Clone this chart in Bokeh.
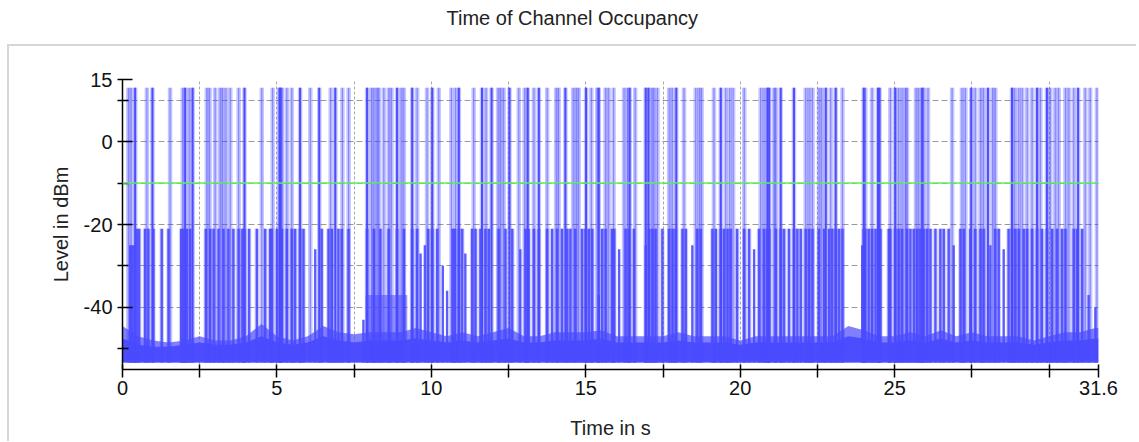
from bokeh.plotting import figure
from bokeh.models import FixedTicker, Span, Range1d, Title
from bokeh.embed import file_html
from bokeh.resources import INLINE

# ---------------- data ----------------
title_text = "Time of Channel Occupancy"
x_label = "Time in s"
y_label = "Level in dBm"

x_major = [0, 5, 10, 15, 20, 25, 31.6]
x_minor = [2.5, 7.5, 12.5, 17.5, 22.5, 27.5, 30]
y_major = [15, 0, -20, -40]
y_minor = [10, -10, -30, -50]

threshold_dbm = -10.0
burst_level = 13.0
floor_bottom = -53.3

# times (s) of bursts reaching ~13 dBm
hi_times = [0.19, 0.28, 0.41, 0.79, 0.97, 1.54, 1.95, 2.03, 2.16, 2.27, 2.73, 2.82,
            3.00, 3.16, 3.24, 3.35, 3.49, 3.76, 3.95, 4.51, 4.86, 5.07, 5.10, 5.13,
            5.16, 5.32, 5.48, 5.75, 6.08, 6.37, 6.74, 6.89, 7.12, 7.32,
            7.92, 8.06, 8.14, 8.24, 8.30, 8.46, 8.62, 8.71, 8.89, 9.02, 9.11, 9.38,
            9.54, 9.86, 10.03, 10.24, 10.65, 10.78, 10.89, 11.37, 11.64, 11.77, 11.95,
            12.16, 12.24, 12.34, 12.53, 12.83, 13.02, 13.12, 13.32, 13.48, 13.75,
            14.04, 14.12, 14.34, 14.59, 14.69, 14.77, 15.01, 15.18, 15.37, 15.42,
            15.64, 15.74, 15.90,
            16.24, 16.35, 16.42, 16.60, 16.94, 17.03, 17.14, 17.21, 17.32, 17.70,
            17.80, 17.93, 18.18, 18.56, 18.67, 18.75, 19.15, 19.37, 19.53, 19.66,
            19.77, 20.13, 20.66, 20.77, 20.88, 20.94, 21.10, 21.15, 21.31, 21.74,
            22.12, 22.23, 22.34, 22.55, 22.64, 22.77, 22.93, 23.09, 23.31,
            24.00, 24.05, 24.27, 24.46, 24.51, 24.86, 25.02, 25.13, 25.24, 25.35,
            25.40, 25.69, 25.78, 25.89, 25.94, 26.08, 26.86, 27.18, 27.29, 27.48,
            27.61, 27.78, 27.88, 28.02, 28.17, 28.26, 28.80, 28.89, 29.02, 29.13,
            29.29, 29.45, 29.61, 29.72, 29.93, 30.04, 30.20, 30.31, 30.53, 30.64,
            30.80, 30.94, 31.17, 31.33, 31.55]

# the bursts that are drawn darkest
hi_strong = [0.41, 0.97, 2.03, 2.27, 3.95, 5.10, 5.75, 6.37, 6.89,
             7.92, 8.89, 9.38, 10.03, 10.89, 11.64, 11.95, 12.53, 13.12, 13.48,
             14.34, 15.01, 15.42, 16.42, 16.94, 17.03, 17.93, 19.37, 20.88, 20.94,
             21.31, 21.74, 22.77, 23.09, 24.00, 24.46, 24.51, 25.02, 25.89, 27.48,
             28.02, 28.80, 29.61, 29.93, 30.94]

# times (s) of bursts reaching ~-21 dBm
mid_times = [0.46, 0.54, 0.73, 0.84, 1.00, 1.27, 1.49, 1.90, 1.97, 2.08, 2.19,
             2.70, 2.84, 2.95, 3.11, 3.27, 3.43, 3.59, 3.76, 3.88, 3.95, 4.10,
             4.35, 4.62, 4.78, 4.83, 5.00, 5.16, 5.32, 5.48, 5.59, 5.75, 5.86,
             6.45, 6.67, 6.78, 6.99, 7.10, 7.32,
             7.92, 8.14, 8.35, 8.62, 8.89, 9.11, 9.38, 9.54, 9.90, 10.03, 10.19,
             10.69, 10.76, 10.89, 11.00, 11.32, 11.43, 11.59, 11.75, 11.86, 12.18,
             12.40, 12.62, 13.05, 13.15, 13.32, 13.48, 13.75, 13.91, 14.07, 14.23,
             14.40, 14.50, 14.66, 14.88, 14.99, 15.10, 15.21, 15.53, 15.64, 15.85,
             15.92, 16.29, 16.40, 16.56, 17.05, 17.16, 17.26, 17.48, 17.70, 17.81,
             17.91, 18.13, 18.24, 18.61, 18.72, 19.10, 19.21, 19.37, 19.48, 19.59,
             19.69, 19.90, 20.13, 20.29, 20.61, 20.77, 20.88, 20.94, 21.15, 21.31,
             21.42, 21.58, 21.74, 21.85, 21.96, 22.12, 22.23, 22.34, 22.55, 22.72,
             22.88, 22.98, 23.09, 23.20, 23.31,
             24.00, 24.05, 24.16, 24.27, 24.38, 24.48, 24.54, 24.81, 24.86, 25.02,
             25.13, 25.24, 25.40, 25.51, 25.62, 25.73, 25.83, 25.94, 26.05, 26.16,
             26.32, 26.48, 26.59, 26.75, 27.13, 27.24, 27.45, 27.61, 27.78, 27.88,
             28.26, 28.37, 28.69, 28.80, 28.91, 29.02, 29.18, 29.29, 29.45, 29.61,
             29.77, 29.93, 30.10, 30.26, 30.42, 30.53, 30.80, 30.91, 31.07]
mid_level = -21.0

# bursts that stop at other, lower levels
low_times = [0.25, 0.30, 0.36, 6.24, 7.80, 9.65, 9.79, 10.37, 10.51, 11.10, 12.88,
             15.42, 16.08, 16.94, 18.45, 20.45, 23.95, 26.91, 28.10, 28.53, 31.28, 31.50]
low_levels = [-25, -25, -25, -26, -43, -27, -25, -30, -36, -27, -26,
              -37, -26, -25, -25, -26, -25, -25, -25, -26, -37, -40]

# dense cluster with ~-37 dBm plateau
plateau_start = [7.87]
plateau_end = [9.22]
plateau_top = [-37.0]

# noise floor envelope
floor_t = [0.0, 0.5, 1.0, 1.5, 2.0, 2.5, 3.0, 3.5, 4.0, 4.5, 5.0, 5.5, 6.0, 6.5,
           7.0, 7.5, 8.0, 8.5, 9.0, 9.5, 10.0, 10.5, 11.0, 11.5, 12.0, 12.5, 13.0,
           13.5, 14.0, 14.5, 15.0, 15.5, 16.0, 16.5, 17.0, 17.5, 18.0, 18.5, 19.0,
           19.5, 20.0, 20.5, 21.0, 21.5, 22.0, 22.5, 23.0, 23.5, 24.0, 24.5, 25.0,
           25.5, 26.0, 26.5, 27.0, 27.5, 28.0, 28.5, 29.0, 29.5, 30.0, 30.5, 31.0,
           31.5, 31.6]
floor_peak = [-44.5, -47, -48, -48.5, -48, -47, -48, -48, -47, -44, -47, -48, -47,
              -44.5, -46, -46.5, -46, -46, -46, -45, -46, -47, -46, -47, -46, -45,
              -47, -47, -46, -46, -46, -45.5, -47, -47, -47, -47, -46, -47, -47,
              -47, -48, -47, -47, -47, -47, -47, -47, -44.5, -45.5, -47, -47, -46,
              -47, -45.5, -47, -46, -47, -47, -47, -48, -47, -46, -46, -45, -45]
floor_solid = [-47.5, -49, -49.5, -49.5, -49, -48.5, -49, -49, -48.5, -47, -48.5,
               -49, -48.5, -47, -48, -48.5, -48, -48, -48, -47.5, -48, -48.5, -48,
               -48.5, -48, -47.5, -48.5, -48.5, -48, -48, -48, -47.5, -48.5, -48.5,
               -48.5, -48.5, -48, -48.5, -48.5, -48.5, -49, -48.5, -48.5, -48.5,
               -48.5, -48.5, -48.5, -47, -47.5, -48.5, -48.5, -48, -48.5, -47.5,
               -48.5, -48, -48.5, -48.5, -48.5, -49, -48.5, -48, -48, -47.5, -47.5]

# ---------------- styling ----------------
BLUE = "#4a4aff"
FONT = "Liberation Sans"
PANEL = "#d6d6d6"

p = figure(width=1136, height=441,
           x_range=Range1d(0, 31.6), y_range=Range1d(-55, 15),
           output_backend="svg", toolbar_location=None,
           min_border_left=122, min_border_right=38,
           min_border_top=79, min_border_bottom=72)
p.background_fill_color = "white"
p.border_fill_color = None
p.outline_line_color = None
# light panel frame behind the (transparent) plot border
p.styles = {
    "background": (f"linear-gradient({PANEL},{PANEL}) 7px 44px / 1400px 2px no-repeat, "
                   f"linear-gradient({PANEL},{PANEL}) 7px 44px / 2px 600px no-repeat, "
                   "white"),
}

# empty spacer between the frame and the title, so the title sits at the very top
p.add_layout(Title(text=" ", text_font_size="1px", standoff=46), "above")

p.title.text = title_text
p.title.align = "left"
p.title.offset = 324
p.title.text_font = FONT
p.title.text_font_size = "20px"
p.title.text_font_style = "normal"
p.title.text_color = "#222222"
p.title.standoff = 4

# noise floor
p.varea(x=floor_t, y1=[floor_bottom] * len(floor_t), y2=floor_peak,
        fill_color=BLUE, fill_alpha=0.7)
p.varea(x=floor_t, y1=[floor_bottom] * len(floor_t), y2=floor_solid,
        fill_color=BLUE, fill_alpha=0.95)
p.quad(left=plateau_start, right=plateau_end, bottom=[floor_bottom], top=plateau_top,
       fill_color=BLUE, fill_alpha=0.55, line_color=None)

# bursts
nh = len(hi_times)
p.segment(x0=hi_times, x1=hi_times, y0=[floor_bottom] * nh, y1=[burst_level] * nh,
          line_color=BLUE, line_width=4.5, line_alpha=0.32)
p.segment(x0=hi_times, x1=hi_times, y0=[floor_bottom] * nh, y1=[burst_level] * nh,
          line_color=BLUE, line_width=1.2, line_alpha=0.5)
ns = len(hi_strong)
p.segment(x0=hi_strong, x1=hi_strong, y0=[floor_bottom] * ns, y1=[burst_level] * ns,
          line_color=BLUE, line_width=2, line_alpha=0.95)
nm = len(mid_times)
p.segment(x0=mid_times, x1=mid_times, y0=[floor_bottom] * nm, y1=[mid_level] * nm,
          line_color=BLUE, line_width=4.5, line_alpha=0.25)
p.segment(x0=mid_times, x1=mid_times, y0=[floor_bottom] * nm, y1=[mid_level] * nm,
          line_color=BLUE, line_width=2.4, line_alpha=0.9)
nl = len(low_times)
p.segment(x0=low_times, x1=low_times, y0=[floor_bottom] * nl, y1=low_levels,
          line_color=BLUE, line_width=2.4, line_alpha=0.9)

# threshold
p.add_layout(Span(location=threshold_dbm, dimension="width",
                  line_color="#5ef05e", line_width=1.6))

# axes
xa = p.xaxis[0]
ya = p.yaxis[0]
xa.ticker = FixedTicker(ticks=x_major, minor_ticks=x_minor)
ya.ticker = FixedTicker(ticks=y_major, minor_ticks=y_minor)
xa.major_label_overrides = {v: ("%g" % v) for v in x_major}
ya.major_label_overrides = {v: ("%g" % v) for v in y_major}
for ax in (xa, ya):
    ax.axis_line_color = "black"
    ax.axis_line_width = 1.5
    ax.major_tick_line_color = "black"
    ax.major_tick_line_width = 1.5
    ax.minor_tick_line_color = "black"
    ax.minor_tick_line_width = 1.5
    ax.major_label_text_font = FONT
    ax.major_label_text_font_size = "20px"
    ax.major_label_text_color = "#111111"
    ax.axis_label_text_font = FONT
    ax.axis_label_text_font_size = "20px"
    ax.axis_label_text_font_style = "normal"
    ax.axis_label_text_color = "#222222"
xa.axis_label = x_label
ya.axis_label = y_label
xa.major_tick_in = 5
xa.major_tick_out = 8
xa.minor_tick_in = 5
xa.minor_tick_out = 8
xa.major_label_standoff = 3
xa.axis_label_standoff = 19
xa.axis_label_text_line_height = 0.8
ya.major_tick_in = 10
ya.major_tick_out = 5
ya.minor_tick_in = 6
ya.minor_tick_out = 5
ya.major_label_standoff = 5
ya.axis_label_standoff = 9

# grids
p.xgrid.grid_line_color = "#a8a8a8"
p.xgrid.grid_line_dash = "3 2"
p.xgrid.minor_grid_line_color = "#a8a8a8"
p.xgrid.minor_grid_line_dash = "3 2"
p.ygrid.grid_line_color = "#9a9a9a"
p.ygrid.grid_line_dash = "6 3"
p.ygrid.minor_grid_line_color = "#9a9a9a"
p.ygrid.minor_grid_line_dash = "6 3"
p.xgrid.level = "underlay"
p.ygrid.level = "underlay"

open("out.html", "w").write(file_html(p, INLINE))
